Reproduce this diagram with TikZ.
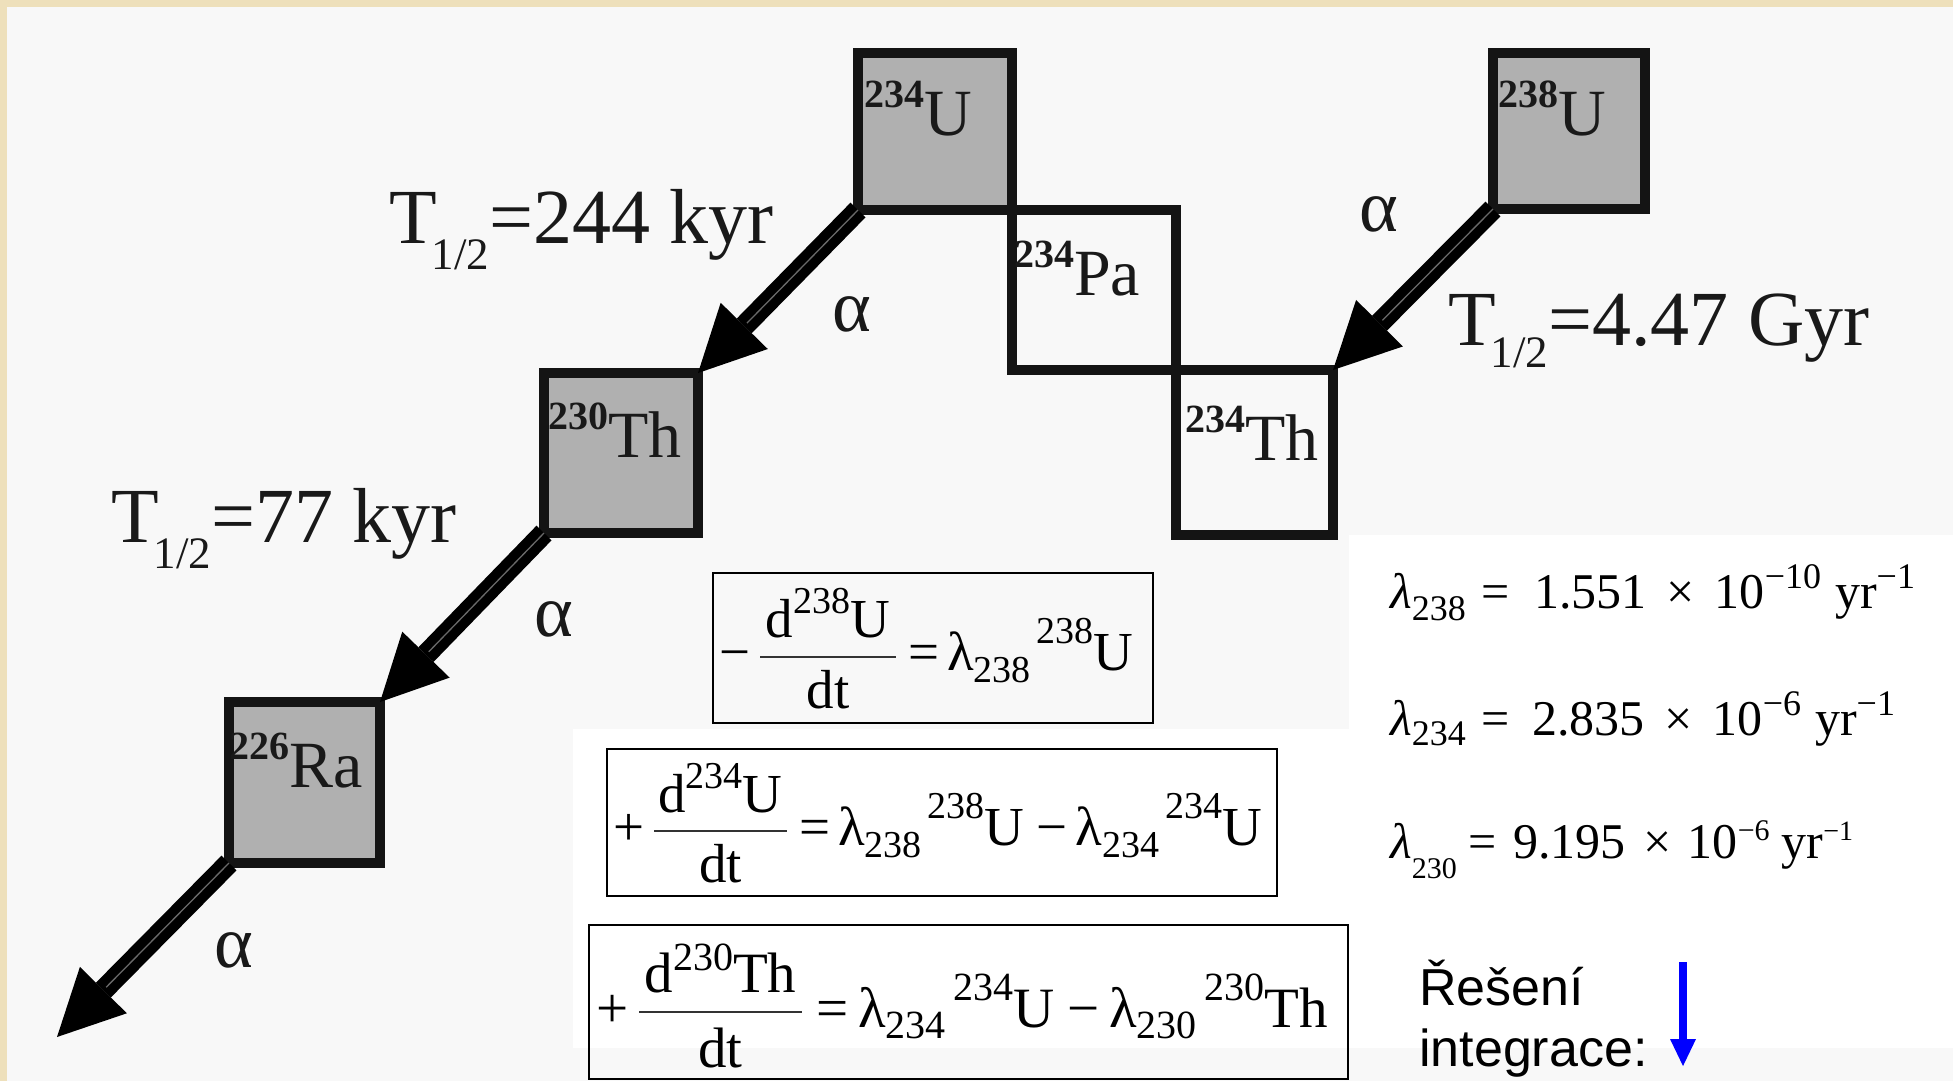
\documentclass[tikz,border=0pt]{standalone}
\usepackage{fontspec}
\setmainfont{Liberation Serif}
\newfontfamily\arialf{Liberation Sans}
\usetikzlibrary{arrows.meta}
\definecolor{bgbeige}{RGB}{238,224,187}
\definecolor{bggray}{RGB}{248,248,248}
\definecolor{boxgray}{RGB}{176,176,176}
\definecolor{boxline}{RGB}{20,20,20}
\definecolor{txt}{RGB}{25,25,25}
\definecolor{stripec}{RGB}{105,105,105}
\newcommand{\fs}[1]{\fontsize{#1}{#1}\selectfont}
\newcommand{\up}[3]{\raisebox{#1pt}{\fs{#2}#3}}
\newcommand{\esup}[1]{\raisebox{28pt}{\fs{40}\bfseries #1}}
\begin{document}
\begin{tikzpicture}[x=1pt,y=-1pt,
  nbox/.style={draw=boxline, line width=10pt, inner sep=0pt, outer sep=0pt},
  elem/.style={anchor=base west, inner sep=0pt, font=\fs{66}, text=txt},
  half/.style={anchor=base west, inner sep=0pt, font=\fs{78}, text=txt},
  alph/.style={inner sep=0pt, font=\fs{74}, text=txt},
  decay/.style={draw=black, line width=21pt, -{Triangle[length=66pt,width=66pt,line width=0pt]}},
  stripe/.style={draw=stripec, line width=1.3pt, shorten >=70pt},
  eqbox/.style={draw=black, line width=2.5pt},
  eqt/.style={inner sep=0pt, font=\fs{55}},
  eqtb/.style={inner sep=0pt, font=\fs{57}},
  lam/.style={anchor=base west, inner sep=0pt, font=\fs{50}},
  fbar/.style={draw=black!80, line width=2pt},
  czech/.style={anchor=base west, inner sep=0pt, font=\arialf\fs{52}}
]
\useasboundingbox (0,0) rectangle (1953,1081);
% background
\fill[bgbeige] (0,0) rectangle (1953,1081);
\fill[bggray] (7,7) rectangle (1953,1081);
\fill[white] (1349,535) -- (1953,535) -- (1953,1048) -- (573,1048) -- (573,729) -- (1349,729) -- cycle;

% nuclide boxes
\node[nbox, fill=boxgray, minimum width=154pt, minimum height=157pt] (u234) at (935,131.5) {};
\node[nbox, fill=bggray, minimum width=164pt, minimum height=160pt] (pa234) at (1094,290) {};
\node[nbox, fill=bggray, minimum width=157pt, minimum height=165pt] (th234) at (1254.5,452.5) {};
\node[nbox, fill=boxgray, minimum width=152pt, minimum height=156pt] (u238) at (1569,131) {};
\node[nbox, fill=boxgray, minimum width=154pt, minimum height=160pt] (th230) at (621,453) {};
\node[nbox, fill=boxgray, minimum width=151pt, minimum height=161pt] (ra226) at (304.5,782.5) {};

% nuclide labels
\node[elem] (lu234) at (864,135) {\esup{234}U};
\node[elem] (lu238) at (1498,135) {\esup{238}U};
\node[elem] (lpa234) at (1014,295) {\esup{234}Pa};
\node[elem] (lth234) at (1185,460) {\esup{234}Th};
\node[elem] (lth230) at (548,457) {\esup{230}Th};
\node[elem] (lra226) at (229,787) {\esup{226}Ra};

% decay arrows
\coordinate (raout) at (57,1037);
\draw[decay] (u234.south west) -- (th230.north east);
\draw[stripe] (u234.south west) -- (th230.north east);
\draw[decay] (u238.south west) -- (th234.north east);
\draw[stripe] (u238.south west) -- (th234.north east);
\draw[decay] (th230.south west) -- (ra226.north east);
\draw[stripe] (th230.south west) -- (ra226.north east);
\draw[decay] (ra226.south west) -- (raout);
\draw[stripe] (ra226.south west) -- (raout);

% alpha labels
\node[alph] (al1) at (852,314) {α};
\node[alph] (al2) at (1379,214) {α};
\node[alph] (al3) at (554,619) {α};
\node[alph] (al4) at (234,950) {α};

% half-lives
\node[half] (h1) at (389,243) {T\kern-5pt\up{-26}{45}{1/2}=244 kyr};
\node[half] (h2) at (111,542) {T\kern-5pt\up{-26}{45}{1/2}=77 kyr};
\node[half] (h3) at (1448,345) {T\kern-5pt\up{-22}{45}{1/2}=4.47 Gyr};

% equation 1
\draw[eqbox] (713,573) rectangle (1153,723);
\node[eqt, anchor=base west] (e1s) at (719,670) {−};
\node[eqt, anchor=base] (e1n) at (828,637) {d\up{24}{38}{238}U};
\node[eqt, anchor=base] (e1d) at (828,708) {dt};
\draw[fbar] (760,657) -- (896,657);
\node[eqt, anchor=base west] (e1r) at (908,670) {=\kern8pt λ\up{-12}{38}{238}\kern6pt\up{27}{38}{238}U};

% equation 2
\draw[eqbox] (607,749) rectangle (1277,896);
\node[eqt, anchor=base west] (e2s) at (613,845) {+};
\node[eqt, anchor=base] (e2n) at (720.5,812) {d\up{24}{38}{234}U};
\node[eqt, anchor=base] (e2d) at (720.5,882) {dt};
\draw[fbar] (654,831) -- (787,831);
\node[eqt, anchor=base west] (e2r) at (799,845) {=\kern8pt λ\up{-12}{38}{238}\kern6pt\up{27}{38}{238}U\kern12pt−\kern8pt λ\up{-12}{38}{234}\kern6pt\up{27}{38}{234}U};

% equation 3
\draw[eqbox] (589,925) rectangle (1348,1079);
\node[eqtb, anchor=base west] (e3s) at (596,1027) {+};
\node[eqtb, anchor=base] (e3n) at (720.5,992) {d\up{22}{40}{230}Th};
\node[eqtb, anchor=base] (e3d) at (720.5,1067) {dt};
\draw[fbar] (639,1012) -- (802,1012);
\node[eqtb, anchor=base west] (e3r) at (816,1027) {=\kern10pt λ\up{-11}{40}{234}\kern8pt\up{27}{40}{234}U\kern12pt−\kern10pt λ\up{-11}{40}{230}\kern8pt\up{27}{40}{230}Th};

% decay constants
\node[lam] (l238) at (1390,608) {\textit{λ}\up{-12}{36}{238}\kern16pt=\kern24pt1.551\kern20pt×\kern20pt10\up{20}{36}{−10}\kern14pt yr\up{20}{36}{−1}};
\node[lam] (l234) at (1390,735) {\textit{λ}\up{-10}{36}{234}\kern16pt=\kern22pt2.835\kern20pt×\kern20pt10\up{20}{36}{−6}\kern14pt yr\up{20}{36}{−1}};
\node[lam] (l230) at (1390,858) {\textit{λ}\up{-20}{30}{230}\kern12pt=\kern16pt9.195\kern18pt×\kern16pt10\up{18}{30}{−6}\kern12pt yr\up{18}{28}{−1}};

% solution note
\node[czech] (res1) at (1419,1005) {Řešení};
\node[czech] (res2) at (1419,1066) {integrace:};
\coordinate (bs) at (1683,962);
\coordinate (be) at (1683,1066);
\draw[blue, line width=8pt, -{Triangle[length=27pt,width=26pt,line width=0pt]}] (bs) -- (be);
\end{tikzpicture}
\end{document}
